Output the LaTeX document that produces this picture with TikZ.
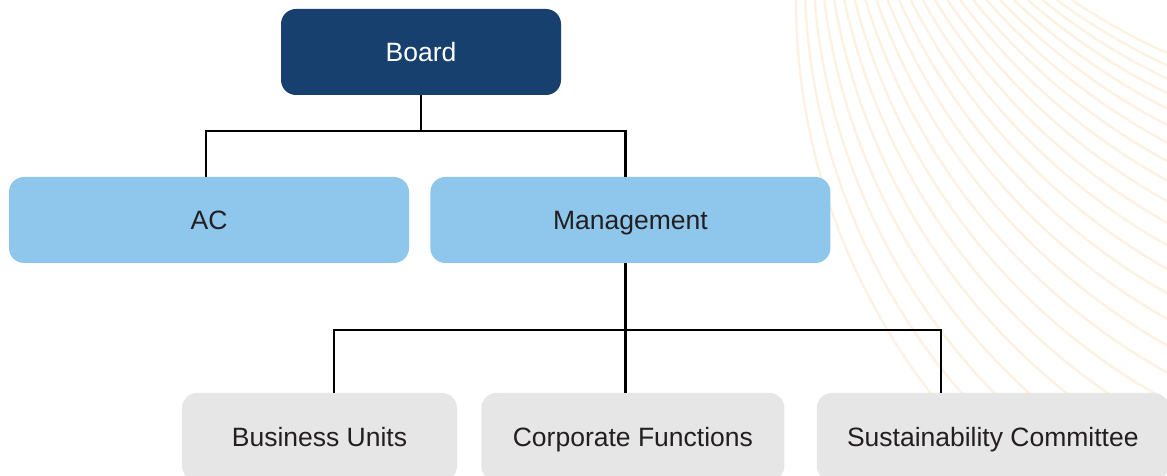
\documentclass[tikz,border=0pt]{standalone}
\usepackage{fontspec}
\setmainfont{Liberation Sans}
\usepackage{xcolor}
\usetikzlibrary{positioning}
\definecolor{boardblue}{RGB}{23,64,111}
\definecolor{midblue}{RGB}{142,198,236}
\definecolor{unitgrey}{RGB}{230,230,230}
\definecolor{inkgrey}{RGB}{35,31,32}
\definecolor{swirl}{RGB}{253,241,226}

\begin{document}
\begin{tikzpicture}[x=1pt, y=1pt, font=\fontsize{26.5}{30}\selectfont]
    \tikzstyle{box} = [rectangle, rounded corners=15pt, minimum height=86pt, inner sep=0pt, text height=19pt, text depth=0pt, text centered]
    \tikzstyle{top} = [box, fill=boardblue, text=white, minimum width=280pt]
    \tikzstyle{mid} = [box, fill=midblue, text=inkgrey, minimum width=400pt]
    \tikzstyle{unit} = [box, fill=unitgrey, text=inkgrey, minimum height=88pt]
    \tikzstyle{link} = [line width=2.5pt, black]

    \useasboundingbox (0,0) rectangle (1167,476);

    % faint swirl in the upper right corner
    \begin{scope}
        \clip (0,0) rectangle (1167,476);
        \foreach \i in {0,...,23} {
            \pgfmathsetmacro{\xs}{796 + 9*\i + 0.13*\i*\i}
            \pgfmathsetmacro{\sa}{-180 + 56*\i/23}
            \draw[swirl, line width=2.4pt] (\xs,476) arc[start angle=\sa, delta angle=48, radius=641];
        }
    \end{scope}

    \node (board) [top] at (421,424) {Board};
    \node (ac) [mid] at (209,256) {AC};
    \node (mgmt) [mid, right=21pt of ac] {Management};
    \node (bu) [unit, minimum width=275pt] at (319.5,39) {Business Units};
    \node (corp) [unit, minimum width=303pt, right=24pt of bu] {Corporate Functions};
    \node (sc) [unit, minimum width=352pt, right=32pt of corp] {Sustainability Committee};

    % board to the second row
    \draw [link] (board.south) -- ++(0,-36) coordinate (tb);
    \draw [link] ([xshift=-3pt]ac.north) |- (tb) -| ([xshift=-5pt]mgmt.north);

    % management to the units
    \path ([xshift=-5pt]mgmt.south) ++(0,-67) coordinate (mb);
    \draw [link] ([xshift=-5pt]mgmt.south) -- (mb |- corp.north);
    \draw [link] ([xshift=14.5pt]bu.north) |- (mb) -| ([xshift=-52pt]sc.north);
\end{tikzpicture}
\end{document}
